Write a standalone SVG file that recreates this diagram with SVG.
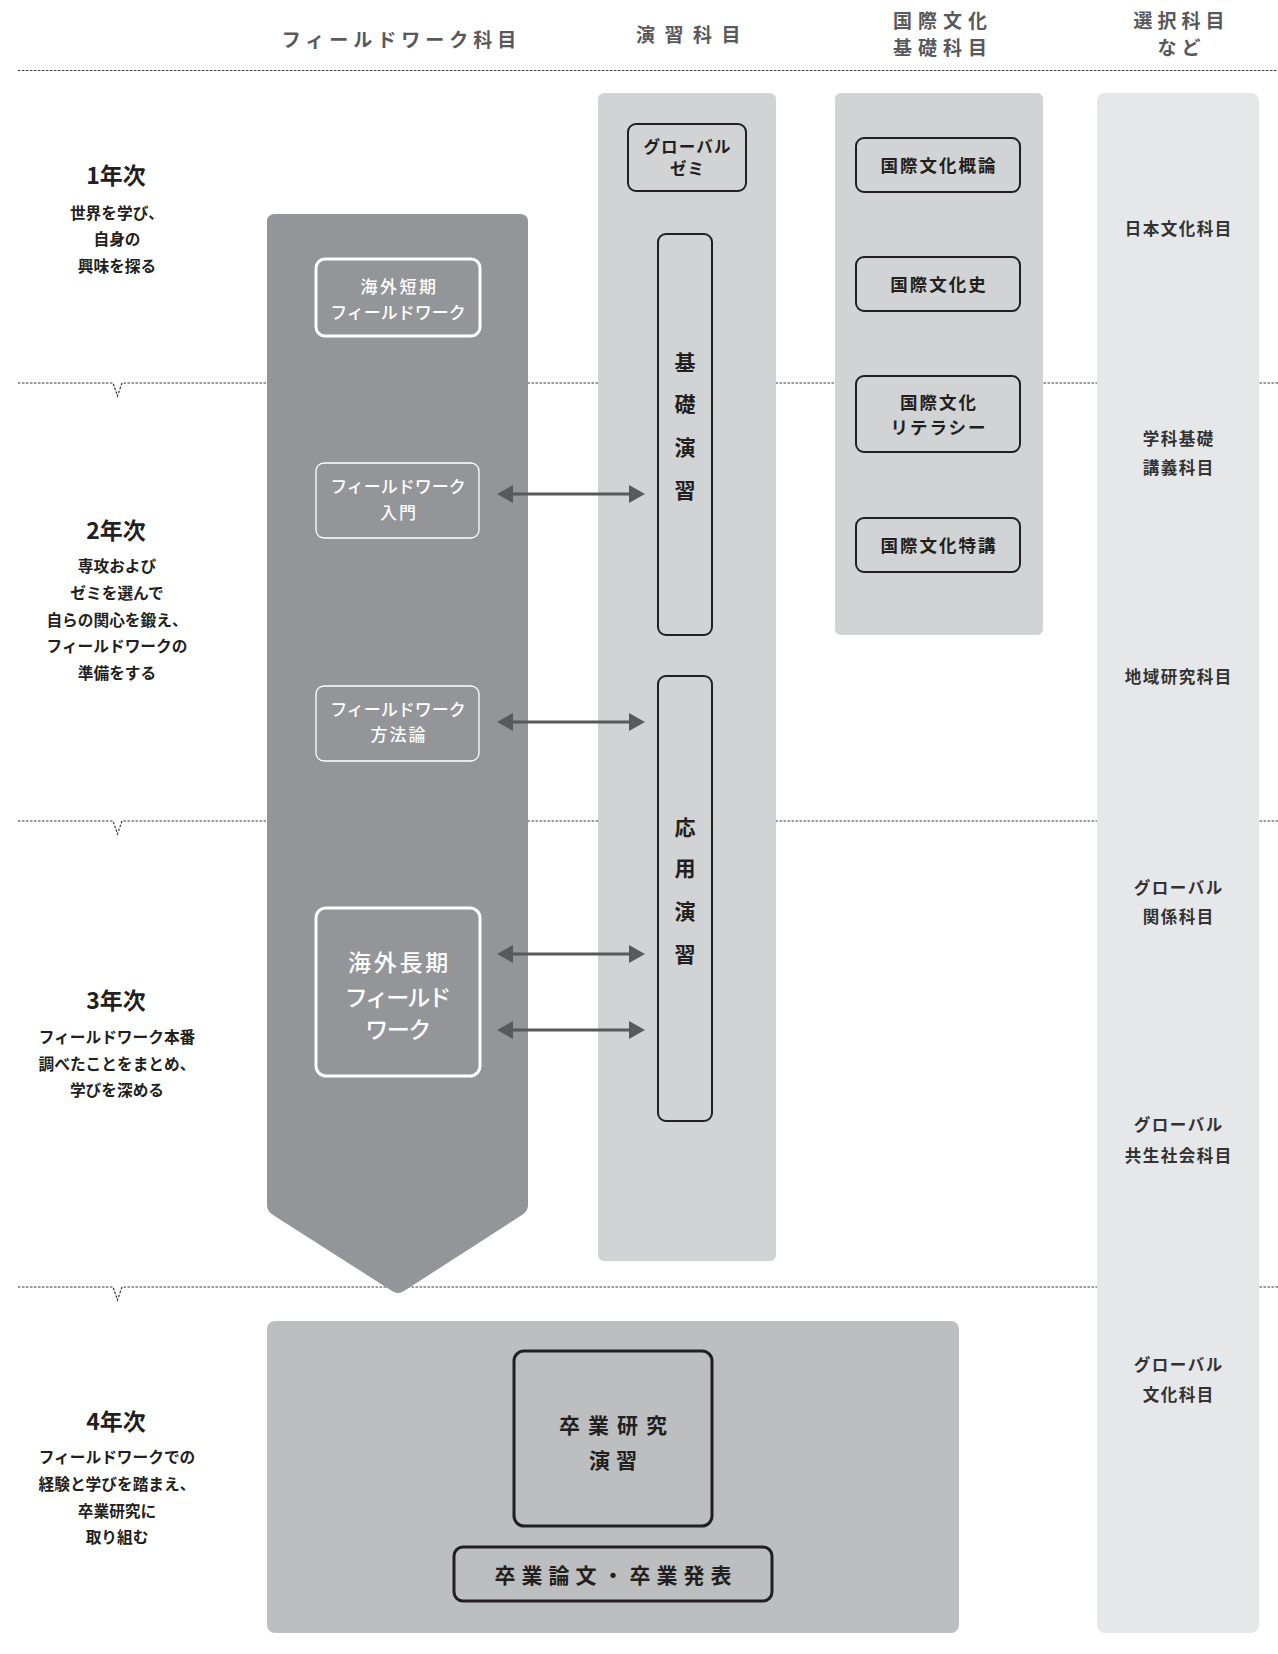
<svg xmlns="http://www.w3.org/2000/svg" width="1278" height="1654" viewBox="0 0 1278 1654">
<defs>
<style>
text{font-family:"Noto Sans CJK JP","Noto Sans CJK SC",sans-serif;fill:#231f20;text-anchor:middle}
.hd{font-size:19px;font-weight:700;fill:#58595b}
.yr{font-size:23px;font-weight:700}
.ds{font-size:15.7px;font-weight:700}
.fw{font-size:17px;font-weight:500;fill:#fff}
.fwl{font-size:23px;font-weight:500;fill:#fff}
.bx{font-size:17.5px;font-weight:700;letter-spacing:2px}
.sm{font-size:16.5px;font-weight:700;letter-spacing:1.2px}
.vt{font-size:21px;font-weight:700}
.el{font-size:16.5px;font-weight:700;letter-spacing:1.5px;fill:#333}
.big{font-size:21px;font-weight:700;letter-spacing:8px}
.dot{fill:none;stroke:#3a3a3a;stroke-width:1.2;stroke-dasharray:2.5 1.5}
.dk{fill:none;stroke:#231f20;stroke-width:2}
.dk3{fill:none;stroke:#231f20;stroke-width:3}
.wt{fill:none;stroke:#fff;stroke-width:3}
.wt1{fill:none;stroke:#fff;stroke-width:1.3}
.arr{stroke:#58595b;stroke-width:3;fill:none;marker-start:url(#ah);marker-end:url(#ah)}
</style>
<marker id="ah" viewBox="0 0 16 18" refX="8" refY="9" markerWidth="16" markerHeight="18" orient="auto-start-reverse" markerUnits="userSpaceOnUse">
<path d="M0,0 L16,9 L0,18 Z" fill="#58595b"/>
</marker>
</defs>
<rect width="1278" height="1654" fill="#fff"/>

<g id="grid">
<line class="dot" x1="18" y1="70.5" x2="1278" y2="70.5"/>
<path class="dot" d="M18,383 H113 L117.5,396 L122,383 H1278"/>
<path class="dot" d="M18,821 H113 L117.5,834 L122,821 H1278"/>
<path class="dot" d="M18,1287 H113 L117.5,1300 L122,1287 H1278"/>
</g>

<g id="headers">
<text class="hd" x="401.5" y="47" style="letter-spacing:5px">フィールドワーク科目</text>
<text class="hd" x="693" y="42" style="letter-spacing:9.5px">演習科目</text>
<text class="hd" x="943" y="28" style="letter-spacing:6px">国際文化</text>
<text class="hd" x="943" y="55" style="letter-spacing:6px">基礎科目</text>
<text class="hd" x="1181.5" y="28" style="letter-spacing:5px">選択科目</text>
<text class="hd" x="1181.5" y="55" style="letter-spacing:5px">など</text>
</g>

<g id="year1">
<text class="yr" x="116" y="183.5">1年次</text>
<text class="ds" x="117" y="218.5">世界を学び、</text>
<text class="ds" x="117" y="245">自身の</text>
<text class="ds" x="117" y="271.5">興味を探る</text>
</g>
<g id="year2">
<text class="yr" x="116" y="538.5">2年次</text>
<text class="ds" x="117" y="572">専攻および</text>
<text class="ds" x="117" y="599">ゼミを選んで</text>
<text class="ds" x="117" y="626">自らの関心を鍛え、</text>
<text class="ds" x="117" y="652">フィールドワークの</text>
<text class="ds" x="117" y="679">準備をする</text>
</g>
<g id="year3">
<text class="yr" x="116" y="1008.5">3年次</text>
<text class="ds" x="117" y="1043">フィールドワーク本番</text>
<text class="ds" x="117" y="1070">調べたことをまとめ、</text>
<text class="ds" x="117" y="1096">学びを深める</text>
</g>
<g id="year4">
<text class="yr" x="116" y="1429.5">4年次</text>
<text class="ds" x="117" y="1463">フィールドワークでの</text>
<text class="ds" x="117" y="1490">経験と学びを踏まえ、</text>
<text class="ds" x="117" y="1517">卒業研究に</text>
<text class="ds" x="117" y="1543">取り組む</text>
</g>

<g id="fieldwork-column">
<path d="M275,214 H520 Q528,214 528,222 V1205 Q528,1211 522,1215 L404,1291 Q398,1295 392,1291 L273,1215 Q267,1211 267,1205 V222 Q267,214 275,214 Z" fill="#939598"/>
</g>

<g id="exercise-column">
<rect x="598" y="93" width="178" height="1168" rx="6" fill="#d1d3d4"/>
</g>

<g id="intl-column">
<rect x="835" y="93" width="208" height="542" rx="6" fill="#d1d3d4"/>
</g>

<g id="elective-column">
<rect x="1097" y="93" width="162" height="1540" rx="8" fill="#e6e7e8"/>
<text class="el" x="1178.75" y="235">日本文化科目</text>
<text class="el" x="1178.75" y="445">学科基礎</text>
<text class="el" x="1178.75" y="474">講義科目</text>
<text class="el" x="1178.75" y="683">地域研究科目</text>
<text class="el" x="1178.75" y="894">グローバル</text>
<text class="el" x="1178.75" y="923">関係科目</text>
<text class="el" x="1178.75" y="1131">グローバル</text>
<text class="el" x="1178.75" y="1162">共生社会科目</text>
<text class="el" x="1178.75" y="1371">グローバル</text>
<text class="el" x="1178.75" y="1401">文化科目</text>
</g>

<g id="year4-area">
<rect x="267" y="1321" width="692" height="312" rx="8" fill="#bcbec0"/>
</g>

<g id="fw-short">
<rect class="wt" x="316" y="259" width="164" height="77" rx="9"/>
<text class="fw" x="399.5" y="293" style="letter-spacing:2.5px">海外短期</text>
<text class="fw" x="398" y="319">フィールドワーク</text>
</g>
<g id="fw-intro">
<rect class="wt1" x="316" y="463" width="163" height="75" rx="8"/>
<text class="fw" x="398" y="493">フィールドワーク</text>
<text class="fw" x="399" y="519" style="letter-spacing:2px">入門</text>
</g>
<g id="fw-method">
<rect class="wt1" x="316" y="686" width="163" height="75" rx="8"/>
<text class="fw" x="398" y="716">フィールドワーク</text>
<text class="fw" x="399" y="741" style="letter-spacing:2px">方法論</text>
</g>
<g id="fw-long">
<rect class="wt" x="316" y="908" width="164" height="168" rx="10"/>
<text class="fwl" x="399.5" y="971" style="letter-spacing:2.7px">海外長期</text>
<text class="fwl" x="397" y="1006" style="letter-spacing:-2px">フィールド</text>
<text class="fwl" x="397.5" y="1038" style="letter-spacing:-1.5px">ワーク</text>
</g>

<g id="global-seminar">
<rect class="dk" x="628" y="124" width="118" height="67" rx="8"/>
<text class="sm" x="687.6" y="153">グローバル</text>
<text class="sm" x="687.6" y="175">ゼミ</text>
</g>
<g id="basic-exercise">
<rect class="dk" x="658" y="234" width="54" height="401" rx="8"/>
<text class="vt" x="685" y="370">基</text>
<text class="vt" x="685" y="412">礎</text>
<text class="vt" x="685" y="455">演</text>
<text class="vt" x="685" y="498">習</text>
</g>
<g id="applied-exercise">
<rect class="dk" x="658" y="676" width="54" height="445" rx="8"/>
<text class="vt" x="685" y="835">応</text>
<text class="vt" x="685" y="876">用</text>
<text class="vt" x="685" y="919">演</text>
<text class="vt" x="685" y="962">習</text>
</g>

<g id="intl-intro">
<rect class="dk" x="856" y="138" width="164" height="54" rx="8"/>
<text class="bx" x="939" y="171.5">国際文化概論</text>
</g>
<g id="intl-history">
<rect class="dk" x="856" y="257" width="164" height="54" rx="8"/>
<text class="bx" x="939" y="291">国際文化史</text>
</g>
<g id="intl-literacy">
<rect class="dk" x="856" y="376" width="164" height="76" rx="8"/>
<text class="bx" x="939" y="409">国際文化</text>
<text class="bx" x="939" y="434">リテラシー</text>
</g>
<g id="intl-special">
<rect class="dk" x="856" y="518" width="164" height="54" rx="8"/>
<text class="bx" x="939" y="552">国際文化特講</text>
</g>

<g id="grad-seminar">
<rect class="dk3" x="514" y="1351" width="198" height="175" rx="10"/>
<text class="big" x="617" y="1433">卒業研究</text>
<text class="big" x="616" y="1468" style="letter-spacing:6px">演習</text>
</g>
<g id="grad-thesis">
<rect class="dk3" x="454" y="1547" width="318" height="54" rx="9"/>
<text class="big" x="616" y="1582.5" style="letter-spacing:6px">卒業論文・卒業発表</text>
</g>

<g id="connectors">
<line class="arr" x1="505" y1="494" x2="637" y2="494"/>
<line class="arr" x1="505" y1="722" x2="637" y2="722"/>
<line class="arr" x1="505" y1="954" x2="637" y2="954"/>
<line class="arr" x1="505" y1="1030" x2="637" y2="1030"/>
</g>
</svg>
